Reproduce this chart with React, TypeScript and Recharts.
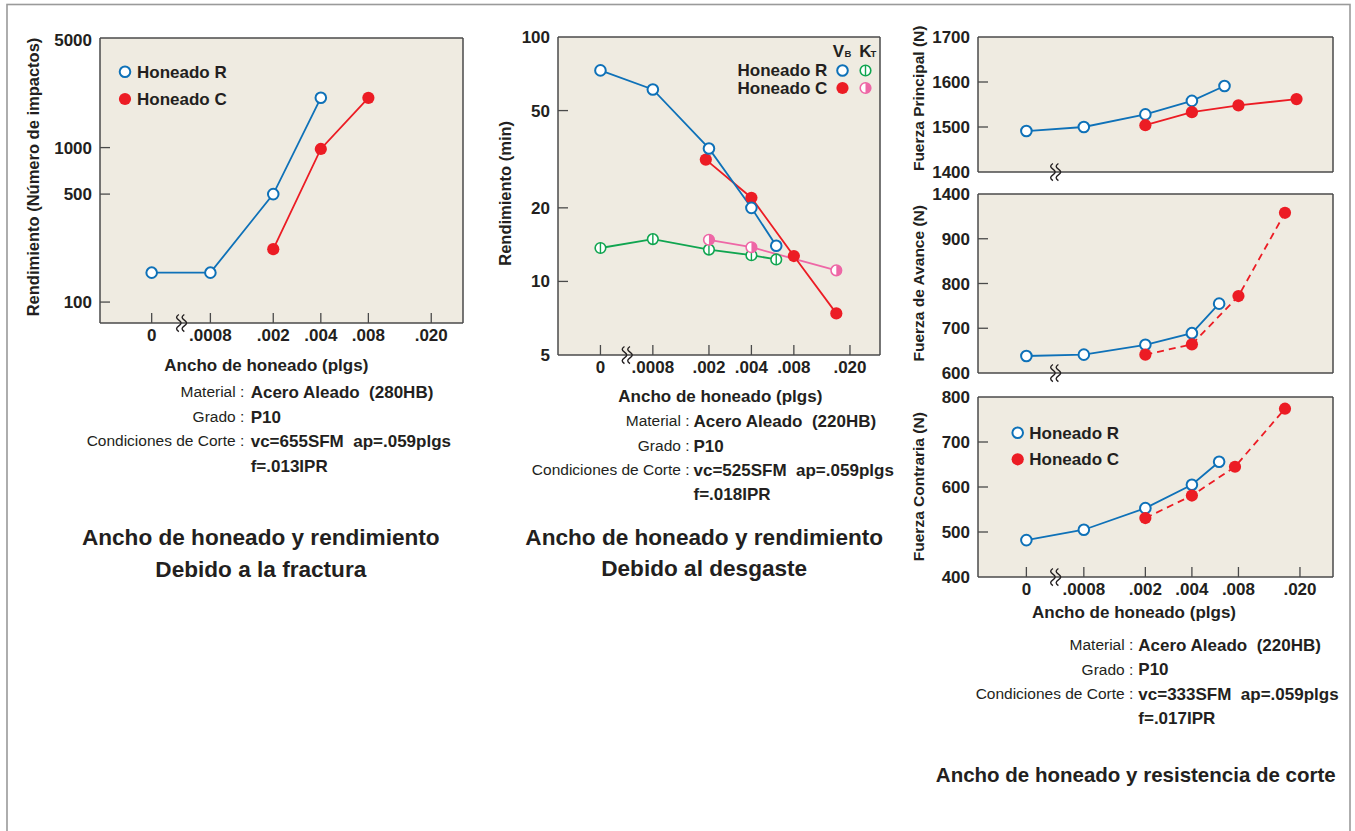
import React from 'react';
import { LineChart, Line, XAxis, YAxis, CartesianGrid, ReferenceDot } from 'recharts';

// ---------- style constants ----------
const FONT = '"Liberation Sans", Arial, Helvetica, sans-serif';
const TEXT = '#231f20';
const BLUE = '#0e71b8';
const RED = '#ec1c24';
const GREEN = '#10a550';
const PINK = '#ee67a6';
const BG = '#efebe1';
const AXIS = '#4a4a4a';

// ---------- x categories (honing width, plgs) ----------
// "0" is drawn at a stand-in position left of the axis break
const ZERO_AT = 0.00034;
const BREAK_AT = 0.00052;
const xTickValues = [0, 0.0008, 0.002, 0.004, 0.008, 0.02];
const xTickLabels = ['0', '.0008', '.002', '.004', '.008', '.020'];

// ---------- Panel 1: fracture ----------
const fracR_x = [0, 0.0008, 0.002, 0.004];
const fracR_y = [155, 155, 500, 2100];
const fracC_x = [0.002, 0.004, 0.008];
const fracC_y = [220, 980, 2100];
const fracYTicks = [100, 500, 1000, 5000];
const fracYLabels = ['100', '500', '1000', '5000'];

// ---------- Panel 2: wear ----------
const wearVbR_x = [0, 0.0008, 0.002, 0.004, 0.006];
const wearVbR_y = [73, 61, 35, 20, 14];
const wearVbC_x = [0.0019, 0.004, 0.008, 0.016];
const wearVbC_y = [31.5, 22, 12.7, 7.4];
const wearKtR_x = [0, 0.0008, 0.002, 0.004, 0.006];
const wearKtR_y = [13.7, 14.9, 13.5, 12.8, 12.3];
const wearKtC_x = [0.002, 0.004, 0.016];
const wearKtC_y = [14.8, 13.8, 11.1];
const wearYTicks = [5, 10, 20, 50, 100];
const wearYLabels = ['5', '10', '20', '50', '100'];

// ---------- Panel 3: cutting forces ----------
const mainR_x = [0, 0.0008, 0.002, 0.004, 0.0065];
const mainR_y = [1491, 1500, 1528, 1558, 1591];
const mainC_x = [0.002, 0.004, 0.008, 0.019];
const mainC_y = [1504, 1533, 1548, 1562];
const mainYTicks = [1400, 1500, 1600, 1700];
const mainYLabels = ['1400', '1500', '1600', '1700'];

const feedR_x = [0, 0.0008, 0.002, 0.004, 0.006];
const feedR_y = [638, 641, 663, 689, 755];
const feedC_x = [0.002, 0.004, 0.008, 0.016];
const feedC_y = [641, 664, 772, 958];
const feedYTicks = [600, 700, 800, 900, 1000];
const feedYLabels = ['600', '700', '800', '900', '1400'];

const backR_x = [0, 0.0008, 0.002, 0.004, 0.006];
const backR_y = [482, 505, 553, 605, 656];
const backC_x = [0.002, 0.004, 0.0076, 0.016];
const backC_y = [531, 581, 645, 774];
const backYTicks = [400, 500, 600, 700, 800];
const backYLabels = ['400', '500', '600', '700', '800'];

// ---------- helpers ----------
type Pt = { x: number; y: number };
const rows = (xs: number[], ys: number[]): Pt[] =>
  xs.map((x, i) => ({ x: x === 0 ? ZERO_AT : x, y: ys[i] }));
const xTickPos = xTickValues.map((v) => (v === 0 ? ZERO_AT : v));

const R_OPEN = 5.3;
const R_FILL = 6.1;
const R_KT = 5.3;

const openDot = (color: string) => (p: any) => (
  <circle key={`o${p.index}`} cx={p.cx} cy={p.cy} r={R_OPEN} fill="#fff" stroke={color} strokeWidth={2} />
);
const fillDot = (color: string) => (p: any) => (
  <circle key={`f${p.index}`} cx={p.cx} cy={p.cy} r={R_FILL} fill={color} />
);
const KtOpenShape = ({ cx, cy }: any) => (
  <g>
    <circle cx={cx} cy={cy} r={R_KT} fill="#fff" stroke={GREEN} strokeWidth={1.6} />
    <line x1={cx} x2={cx} y1={cy - R_KT} y2={cy + R_KT} stroke={GREEN} strokeWidth={1.4} />
  </g>
);
const KtHalfShape = ({ cx, cy }: any) => (
  <g>
    <circle cx={cx} cy={cy} r={R_KT} fill="#fff" stroke={PINK} strokeWidth={1.6} />
    <path d={`M ${cx} ${cy - R_KT} A ${R_KT} ${R_KT} 0 0 1 ${cx} ${cy + R_KT} Z`} fill={PINK} />
  </g>
);
const ktOpenDot = (p: any) => <KtOpenShape key={`g${p.index}`} cx={p.cx} cy={p.cy} />;
const ktHalfDot = (p: any) => <KtHalfShape key={`p${p.index}`} cx={p.cx} cy={p.cy} />;

const BreakMark = (p: any) => {
  const { cx, cy } = p;
  const wave = (x0: number) =>
    `M ${x0} ${cy - 8.5} q -4.5 2.8 0 5.7 q 4.5 2.8 0 5.7 q -4.5 2.8 0 5.7`;
  return (
    <g>
      <path d={wave(cx - 2)} fill="none" stroke={TEXT} strokeWidth={1.4} />
      <path d={wave(cx + 3.5)} fill="none" stroke={TEXT} strokeWidth={1.4} />
    </g>
  );
};

const YW = 70;
const XH = 40;
const MT = 10;
const MR = 10;
const TICK_FS = 17;

type PanelProps = {
  rect: [number, number, number, number];
  xDomain: [number, number];
  yDomain: [number, number];
  yScale: 'log' | 'linear';
  yTicks: number[];
  yLabels: string[];
  yMarks: number[];
  xLabels: boolean;
  xMarks: boolean;
  children: React.ReactNode;
};

function Panel({ rect, xDomain, yDomain, yScale, yTicks, yLabels, yMarks, xLabels, xMarks, children }: PanelProps) {
  const [px, py, pw, ph] = rect;
  const XTick = (p: any) => {
    const i = xTickPos.indexOf(p.payload.value);
    return (
      <g>
        {xMarks && <line x1={p.x} x2={p.x} y1={p.y} y2={p.y - 10} stroke={AXIS} strokeWidth={1.3} />}
        {xLabels && (
          <text x={p.x} y={p.y + 18} textAnchor="middle" fontFamily={FONT} fontWeight="bold" fontSize={TICK_FS} fill={TEXT}>
            {xTickLabels[i]}
          </text>
        )}
      </g>
    );
  };
  const YTick = (p: any) => {
    const i = yTicks.indexOf(p.payload.value);
    return (
      <g>
        {yMarks.includes(p.payload.value) && (
          <line x1={p.x} x2={p.x + 10} y1={p.y} y2={p.y} stroke={AXIS} strokeWidth={1.3} />
        )}
        <text x={p.x - 8} y={p.y + 6} textAnchor="end" fontFamily={FONT} fontWeight="bold" fontSize={TICK_FS} fill={TEXT}>
          {yLabels[i]}
        </text>
      </g>
    );
  };
  return (
    <div style={{ position: 'absolute', left: px - YW, top: py - MT }}>
      <LineChart width={pw + YW + MR} height={ph + MT + XH} margin={{ top: MT, right: MR, bottom: 0, left: 0 }}>
        <CartesianGrid
          fill={BG}
          fillOpacity={1}
          stroke={AXIS}
          strokeWidth={1.5}
          horizontalPoints={[MT, MT + ph]}
          verticalPoints={[YW, YW + pw]}
        />
        <XAxis
          type="number"
          dataKey="x"
          scale="log"
          domain={xDomain}
          allowDataOverflow
          ticks={xTickPos}
          interval={0}
          tick={XTick}
          tickLine={false}
          axisLine={false}
          tickSize={0}
          tickMargin={0}
          height={XH}
        />
        <YAxis
          type="number"
          scale={yScale}
          domain={yDomain}
          allowDataOverflow
          ticks={yTicks}
          interval={0}
          tick={YTick}
          tickLine={false}
          axisLine={false}
          tickSize={0}
          tickMargin={0}
          width={YW}
        />
        {children}
        <ReferenceDot x={BREAK_AT} y={yDomain[0]} ifOverflow="visible" shape={BreakMark} />
      </LineChart>
    </div>
  );
}

const line = (data: Pt[], color: string, dot: any, dashed = false, key = '') => (
  <Line
    key={key}
    data={data}
    dataKey="y"
    type="linear"
    stroke={color}
    strokeWidth={1.8}
    strokeDasharray={dashed ? '7 5' : undefined}
    dot={dot}
    activeDot={false}
    isAnimationActive={false}
  />
);

// ---------- overlay text ----------
type TProps = {
  x: number;
  y: number;
  s?: number;
  b?: boolean;
  a?: 'start' | 'middle' | 'end';
  rot?: boolean;
  children: React.ReactNode;
};
const T = ({ x, y, s = 16.5, b = true, a = 'start', rot = false, children }: TProps) => (
  <text
    x={x}
    y={y}
    dy="0.35em"
    fontSize={s}
    fontWeight={b ? 'bold' : 'normal'}
    fontFamily={FONT}
    fill={TEXT}
    textAnchor={a}
    transform={rot ? `rotate(-90 ${x} ${y})` : undefined}
    style={{ whiteSpace: 'pre' }}
  >
    {children}
  </text>
);

const Notes = ({ cx, vx, ys, mat, cond, feed }: { cx: number; vx: number; ys: number[]; mat: string; cond: string; feed: string }) => (
  <g>
    <T x={cx} y={ys[0]} s={15.5} b={false} a="end">Material :</T>
    <T x={vx} y={ys[0]} s={17}>{mat}</T>
    <T x={cx} y={ys[1]} s={15.5} b={false} a="end">Grado :</T>
    <T x={vx} y={ys[1]} s={17}>P10</T>
    <T x={cx} y={ys[2]} s={15.5} b={false} a="end">Condiciones de Corte :</T>
    <T x={vx} y={ys[2]} s={17}>{cond}</T>
    <T x={vx} y={ys[3]} s={17}>{feed}</T>
  </g>
);

export default function App() {
  const xd1: [number, number] = [0.0001601, 0.03177];
  const xd2: [number, number] = [0.00017, 0.03266];
  const xd3: [number, number] = [0.0001654, 0.03271];
  return (
    <div style={{ position: 'absolute', left: 0, top: 0, width: 1355, height: 831, background: '#fff', overflow: 'hidden' }}>
      {/* Panel 1 */}
      <Panel
        rect={[100, 38, 363, 285]}
        xDomain={xd1}
        yDomain={[73.2, 5122]}
        yScale="log"
        yTicks={fracYTicks}
        yLabels={fracYLabels}
        yMarks={[100, 500, 1000]}
        xLabels
        xMarks
      >
        {line(rows(fracR_x, fracR_y), BLUE, openDot(BLUE), false, 'r1')}
        {line(rows(fracC_x, fracC_y), RED, fillDot(RED), false, 'c1')}
      </Panel>

      {/* Panel 2 */}
      <Panel
        rect={[558, 37, 322, 318]}
        xDomain={xd2}
        yDomain={[5, 100]}
        yScale="log"
        yTicks={wearYTicks}
        yLabels={wearYLabels}
        yMarks={[10, 20, 50]}
        xLabels
        xMarks
      >
        {line(rows(wearKtR_x, wearKtR_y), GREEN, ktOpenDot, false, 'kr')}
        {line(rows(wearKtC_x, wearKtC_y), PINK, ktHalfDot, false, 'kc')}
        {line(rows(wearVbC_x, wearVbC_y), RED, fillDot(RED), false, 'vc')}
        {line(rows(wearVbR_x, wearVbR_y), BLUE, openDot(BLUE), false, 'vr')}
      </Panel>

      {/* Panel 3 top */}
      <Panel
        rect={[978, 37, 355, 135]}
        xDomain={xd3}
        yDomain={[1400, 1700]}
        yScale="linear"
        yTicks={mainYTicks}
        yLabels={mainYLabels}
        yMarks={[1500, 1600]}
        xLabels={false}
        xMarks={false}
      >
        {line(rows(mainR_x, mainR_y), BLUE, openDot(BLUE), false, 'mr')}
        {line(rows(mainC_x, mainC_y), RED, fillDot(RED), false, 'mc')}
      </Panel>

      {/* Panel 3 middle */}
      <Panel
        rect={[978, 194, 355, 179]}
        xDomain={xd3}
        yDomain={[600, 1000]}
        yScale="linear"
        yTicks={feedYTicks}
        yLabels={feedYLabels}
        yMarks={[700, 800, 900]}
        xLabels={false}
        xMarks={false}
      >
        {line(rows(feedR_x, feedR_y), BLUE, openDot(BLUE), false, 'fr')}
        {line(rows(feedC_x, feedC_y), RED, fillDot(RED), true, 'fc')}
      </Panel>

      {/* Panel 3 bottom */}
      <Panel
        rect={[978, 397, 355, 180]}
        xDomain={xd3}
        yDomain={[400, 800]}
        yScale="linear"
        yTicks={backYTicks}
        yLabels={backYLabels}
        yMarks={[500, 600, 700]}
        xLabels
        xMarks
      >
        {line(rows(backR_x, backR_y), BLUE, openDot(BLUE), false, 'br')}
        {line(rows(backC_x, backC_y), RED, fillDot(RED), true, 'bc')}
      </Panel>

      {/* overlay text & decorations */}
      <svg width={1355} height={831} style={{ position: 'absolute', left: 0, top: 0, pointerEvents: 'none' }}>
        <rect x={7} y={4.5} width={1343} height={850} fill="none" stroke="#9a9a9a" strokeWidth={1.6} />

        {/* Panel 1 texts */}
        <T x={33} y={177} s={16.5} a="middle" rot>Rendimiento (Número de impactos)</T>
        <circle cx={125} cy={71.7} r={R_OPEN} fill="#fff" stroke={BLUE} strokeWidth={2} />
        <T x={137} y={71.7} s={17}>Honeado R</T>
        <circle cx={125} cy={99} r={R_FILL} fill={RED} />
        <T x={137} y={99} s={17}>Honeado C</T>
        <T x={266.3} y={365} s={17} a="middle">Ancho de honeado (plgs)</T>
        <Notes
          cx={244.3}
          vx={250.7}
          ys={[391.7, 416.7, 440.7, 465.7]}
          mat="Acero Aleado  (280HB)"
          cond="vc=655SFM  ap=.059plgs"
          feed="f=.013IPR"
        />
        <T x={260.8} y={536.7} s={22.6} a="middle">Ancho de honeado y rendimiento</T>
        <T x={260.8} y={569.5} s={22.6} a="middle">Debido a la fractura</T>

        {/* Panel 2 texts */}
        <T x={505} y={193.3} s={16.5} a="middle" rot>Rendimiento (min)</T>
        <text x={832.7} y={56.7} fontSize={17} fontWeight="bold" fontFamily={FONT} fill={TEXT}>V</text>
        <text x={844.5} y={56.7} fontSize={9.5} fontWeight="bold" fontFamily={FONT} fill={TEXT}>B</text>
        <text x={859.3} y={56.7} fontSize={17} fontWeight="bold" fontFamily={FONT} fill={TEXT}>K</text>
        <text x={870.5} y={56.7} fontSize={9.5} fontWeight="bold" fontFamily={FONT} fill={TEXT}>T</text>
        <T x={827.3} y={70} s={17} a="end">Honeado R</T>
        <T x={827.3} y={88} s={17} a="end">Honeado C</T>
        <circle cx={842.5} cy={70.5} r={R_OPEN} fill="#fff" stroke={BLUE} strokeWidth={2} />
        <KtOpenShape cx={865.5} cy={70.5} />
        <circle cx={842.5} cy={88} r={R_FILL} fill={RED} />
        <KtHalfShape cx={865.5} cy={88} />
        <T x={720.3} y={395.7} s={17} a="middle">Ancho de honeado (plgs)</T>
        <Notes
          cx={689.5}
          vx={693.5}
          ys={[421, 446, 470, 494]}
          mat="Acero Aleado  (220HB)"
          cond="vc=525SFM  ap=.059plgs"
          feed="f=.018IPR"
        />
        <T x={704.2} y={536.7} s={22.6} a="middle">Ancho de honeado y rendimiento</T>
        <T x={704.2} y={568} s={22.6} a="middle">Debido al desgaste</T>

        {/* Panel 3 texts */}
        <T x={918.3} y={98.3} s={15.5} a="middle" rot>Fuerza Principal (N)</T>
        <T x={918.3} y={283.3} s={15.5} a="middle" rot>Fuerza de Avance (N)</T>
        <T x={918.3} y={486.7} s={15.5} a="middle" rot>Fuerza Contraria (N)</T>
        <circle cx={1017.7} cy={432.7} r={R_OPEN} fill="#fff" stroke={BLUE} strokeWidth={2} />
        <T x={1029.3} y={432.7} s={17}>Honeado R</T>
        <circle cx={1017.7} cy={459.3} r={R_FILL} fill={RED} />
        <T x={1029.3} y={459.3} s={17}>Honeado C</T>
        <T x={1134} y={612} s={17} a="middle">Ancho de honeado (plgs)</T>
        <Notes
          cx={1133.3}
          vx={1138.3}
          ys={[645, 669.3, 694, 717.7]}
          mat="Acero Aleado  (220HB)"
          cond="vc=333SFM  ap=.059plgs"
          feed="f=.017IPR"
        />
        <T x={1135.8} y={775} s={20.5} a="middle">Ancho de honeado y resistencia de corte</T>
      </svg>
    </div>
  );
}
